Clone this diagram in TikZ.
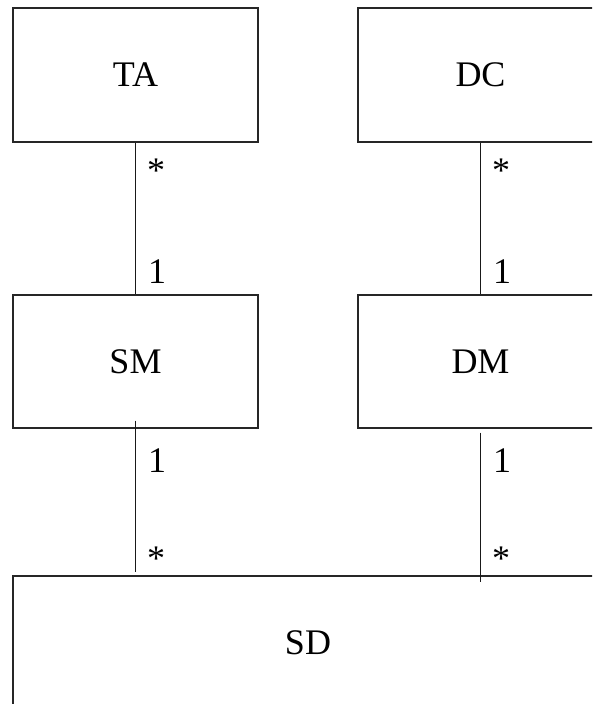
\documentclass[tikz,border=0pt]{standalone}
\usepackage{fontspec}
\setmainfont{Liberation Serif}
\newfontfamily\umlfont{Liberation Serif}
\begin{document}
\begin{tikzpicture}[x={(1pt,0)},y={(0,-1pt)},
  box/.style={draw=black!85,line width=1.2pt,minimum width=245pt,minimum height=134pt,inner sep=0pt,font=\umlfont\fontsize{36}{40}\selectfont},
  link/.style={draw=black!90,line width=1.1pt},
  mult/.style={anchor=base west,inner sep=0pt,font=\umlfont\fontsize{36}{40}\selectfont}]
\useasboundingbox (0,0) rectangle (592,704);
\clip (0,0) rectangle (592,704);
\node[box] (ta) at (135.5,75) {TA};
\node[box] (dc) at (480.5,75) {DC};
\node[box,minimum height=133pt] (sm) at (135.5,361.5) {SM};
\node[box,minimum height=133pt] (dm) at (480.5,361.5) {DM};
\node[box,minimum width=590pt] (sd) at (308,643) {SD};
% connectors
\draw[link] (ta.south) -- (sm.north);
\draw[link] (dc.south) -- (dm.north);
\draw[link] ([yshift=8pt]sm.south) -- ([yshift=3pt]sm.south |- sd.north);
\draw[link] ([yshift=-4pt]dm.south) -- ([yshift=-7pt]dm.south |- sd.north);
% multiplicities
\node[mult] (m1) at (147,182) {*};
\node[mult] (m2) at (148,283) {1};
\node[mult] (m3) at (492,182) {*};
\node[mult] (m4) at (493,283) {1};
\node[mult] (m5) at (148,472) {1};
\node[mult] (m6) at (147,570) {*};
\node[mult] (m7) at (493,472) {1};
\node[mult] (m8) at (492,570) {*};
\end{tikzpicture}
\end{document}
